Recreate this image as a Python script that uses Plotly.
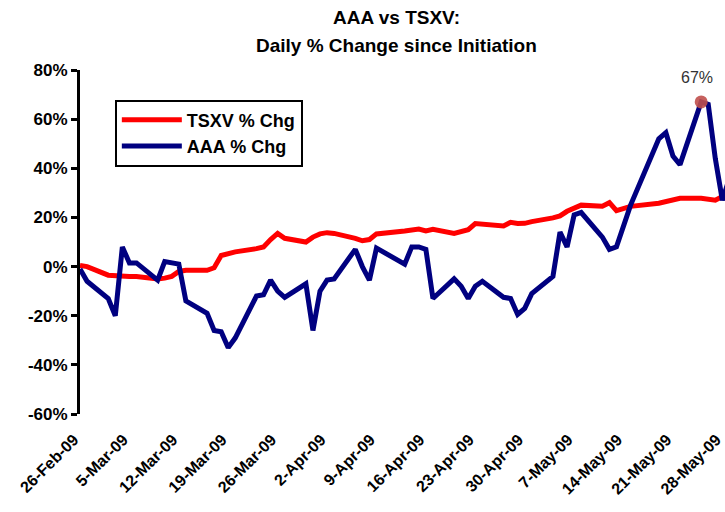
import plotly.graph_objects as go

dates = ["2009-02-26", "2009-02-27", "2009-03-02", "2009-03-03", "2009-03-04", "2009-03-05", "2009-03-06",
         "2009-03-09", "2009-03-10", "2009-03-11", "2009-03-12", "2009-03-13",
         "2009-03-16", "2009-03-17", "2009-03-18", "2009-03-19", "2009-03-20",
         "2009-03-23", "2009-03-24", "2009-03-25", "2009-03-26", "2009-03-27",
         "2009-03-30", "2009-03-31", "2009-04-01", "2009-04-02", "2009-04-03",
         "2009-04-06", "2009-04-07", "2009-04-08", "2009-04-09",
         "2009-04-13", "2009-04-14", "2009-04-15", "2009-04-16", "2009-04-17",
         "2009-04-20", "2009-04-21", "2009-04-22", "2009-04-23", "2009-04-24",
         "2009-04-27", "2009-04-28", "2009-04-29", "2009-04-30", "2009-05-01",
         "2009-05-04", "2009-05-05", "2009-05-06", "2009-05-07", "2009-05-08",
         "2009-05-11", "2009-05-12", "2009-05-13", "2009-05-14", "2009-05-15",
         "2009-05-19", "2009-05-20", "2009-05-21", "2009-05-22",
         "2009-05-25", "2009-05-26", "2009-05-27", "2009-05-28", "2009-05-29"]

tsxv_pct = [0.5, 0, -3.5, -3.8, -4, -4, -4,
            -5, -4.7, -4, -2, -1.5,
            -1.5, -0.5, 4.5, 5.5, 6,
            7.3, 8, 11, 13.5, 11.5,
            10, 12, 13.3, 13.8, 13.5,
            11.5, 10.5, 11, 13.3,
            14.5, 14.8, 15.3, 14.5, 15.2,
            13.5, 14, 15, 17.5, 17.3,
            16.5, 18, 17.5, 17.6, 18.3,
            19.8, 20.6, 22.5, 23.5, 25,
            24.6, 26, 22.8, 23.5, 24.5,
            25.8, 26.5, 27.5, 27.8,
            27.8, 27.5, 27, 28.5, 29.5]

aaa_pct = [-1, -6, -13, -20, 8, 1.5, 1.5,
           -5.5, 2, 1.5, 1, -14,
           -19, -26, -26.5, -33, -29,
           -12, -11.5, -5.5, -10, -12.5,
           -7, -26, -10, -5.5, -5,
           7, 0, -5.5, 7.5,
           1, 8, 8, 7, -13,
           -5, -8, -13, -8, -6,
           -12.5, -13, -19.5, -17, -11,
           -4, 14, 8, 21, 22,
           12, 7, 8, 16, 25,
           52, 54.5, 45, 41.5,
           67, 66, 44, 27, 36]

peak_date = "2009-05-25"
peak_value = 67
peak_label = "67%"

title_lines = ["AAA vs TSXV:", "Daily % Change since Initiation"]

tick_dates = ["2009-02-26", "2009-03-05", "2009-03-12", "2009-03-19", "2009-03-26", "2009-04-02",
              "2009-04-09", "2009-04-16", "2009-04-23", "2009-04-30", "2009-05-07", "2009-05-14",
              "2009-05-21", "2009-05-28"]
tick_labels = ["26-Feb-09", "5-Mar-09", "12-Mar-09", "19-Mar-09", "26-Mar-09", "2-Apr-09",
               "9-Apr-09", "16-Apr-09", "23-Apr-09", "30-Apr-09", "7-May-09", "14-May-09",
               "21-May-09", "28-May-09"]
y_ticks = [-60, -40, -20, 0, 20, 40, 60, 80]

FONT = "Liberation Sans, Arial, sans-serif"

W, H = 725, 512
ML, MT, MR, MB = 80, 70, 0, 98
PH = H - MT - MB

fig = go.Figure()
fig.add_trace(go.Scatter(x=dates, y=tsxv_pct, mode="lines", name="<b>TSXV % Chg</b>",
                         line=dict(color="#FF0000", width=5)))
fig.add_trace(go.Scatter(x=dates, y=aaa_pct, mode="lines", name="<b>AAA % Chg</b>",
                         line=dict(color="#000080", width=5)))
fig.add_trace(go.Scatter(x=[peak_date], y=[peak_value], mode="markers", showlegend=False,
                         marker=dict(color="#C0504D", size=13, opacity=0.9)))
fig.add_annotation(x=peak_date, y=peak_value, text=peak_label, showarrow=False,
                   yanchor="bottom", yshift=14, xshift=-4,
                   font=dict(family=FONT, size=16, color="#333333"))

fig.add_annotation(text="<b>%s</b>" % title_lines[0], xref="paper", yref="paper",
                   x=0.49, y=(PH + MT - 18) / PH, xanchor="center", yanchor="middle",
                   showarrow=False, font=dict(family=FONT, size=19, color="black"))
fig.add_annotation(text="<b>%s</b>" % title_lines[1], xref="paper", yref="paper",
                   x=0.49, y=(PH + MT - 45) / PH, xanchor="center", yanchor="middle",
                   showarrow=False, font=dict(family=FONT, size=19, color="black"))

fig.update_layout(
    width=W, height=H,
    margin=dict(l=ML, r=MR, t=MT, b=MB, autoexpand=False),
    paper_bgcolor="white", plot_bgcolor="white",
    showlegend=True,
    legend=dict(x=0.054, y=(PH - (133 - MT)) / PH, xanchor="left", yanchor="middle",
                bgcolor="white", bordercolor="black", borderwidth=2,
                font=dict(family=FONT, size=18, color="black"),
                itemwidth=60, tracegroupgap=0),
    font=dict(family=FONT),
)
fig.update_xaxes(type="date", range=["2009-02-26", "2009-05-28 09:00"], automargin=False,
                 tickvals=tick_dates, ticktext=["<b>%s</b>" % t for t in tick_labels],
                 tickangle=-45, tickfont=dict(family=FONT, size=16, color="black"),
                 ticklabeloverflow="allow", ticklabelshift=-6,
                 showline=False, showgrid=False,
                 ticks="outside", ticklen=9, tickwidth=1, tickcolor="rgba(0,0,0,0)",
                 zeroline=False)
fig.update_yaxes(range=[-60, 80], tickvals=y_ticks, automargin=False,
                 ticktext=["<b>%d%%</b>" % v for v in y_ticks],
                 tickfont=dict(family=FONT, size=17, color="black"),
                 showline=True, linecolor="black", linewidth=3, showgrid=False,
                 ticks="outside", ticklen=6, tickwidth=3, tickcolor="black", zeroline=False)

# remove the page's default 8px body margin so the figure sits at the window's corner
fig.write_html("out.html", config={"displayModeBar": False},
               post_script="document.body.style.margin='0px';document.body.style.overflow='hidden';")
